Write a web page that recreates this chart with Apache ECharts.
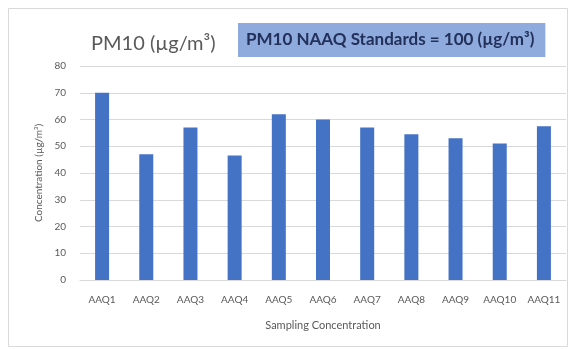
<!DOCTYPE html>
<html>
<head>
<meta charset="utf-8">
<script src="https://cdn.jsdelivr.net/npm/echarts@6/dist/echarts.min.js"></script>
<style>
  html, body { margin: 0; padding: 0; background: #ffffff; }
  #chart { width: 576px; height: 350px; }
</style>
</head>
<body>
<div id="chart"></div>
<script>
// Sampling stations and measured PM10 concentrations (µg/m³)
const stations = ['AAQ1', 'AAQ2', 'AAQ3', 'AAQ4', 'AAQ5', 'AAQ6', 'AAQ7', 'AAQ8', 'AAQ9', 'AAQ10', 'AAQ11'];
const pm10Values = [70, 47, 57, 46.5, 62, 60, 57, 54.5, 53, 51, 57.5];
const yTicks = [0, 10, 20, 30, 40, 50, 60, 70, 80];

const FONT = 'Lato, "Open Sans", sans-serif';
const chart = echarts.init(document.getElementById('chart'), null, { renderer: 'canvas' });

chart.setOption({
  backgroundColor: '#ffffff',
  animation: false,
  graphic: [{
    type: 'rect',
    shape: { x: 8.5, y: 8.5, width: 559, height: 338 },
    style: { fill: 'none', stroke: '#d9d9d9', lineWidth: 1 },
    silent: true
  }],
  title: [{
    text: 'PM10 (µg/m³)',
    left: 86,
    top: 29,
    textStyle: { fontFamily: FONT, fontSize: 20, fontWeight: 'normal', color: '#595959' }
  }, {
    text: 'PM10 NAAQ Standards = 100 (µg/m³)',
    left: 238,
    top: 23,
    backgroundColor: '#8faadc',
    padding: [7, 11, 7, 8],
    textStyle: { fontFamily: FONT, fontSize: 17, lineHeight: 20, fontWeight: 'bold', color: '#22305a' }
  }],
  grid: { left: 80, right: 10, top: 66, bottom: 70, containLabel: false },
  xAxis: {
    type: 'category',
    data: stations,
    name: 'Sampling Concentration',
    nameLocation: 'middle',
    nameGap: 40,
    nameTextStyle: { fontFamily: FONT, fontSize: 11, color: '#595959' },
    axisLine: { show: true, lineStyle: { color: '#d9d9d9' } },
    axisTick: { show: false },
    axisLabel: { fontFamily: FONT, fontSize: 10, color: '#595959', margin: 15, interval: 0 }
  },
  yAxis: {
    type: 'value',
    min: yTicks[0],
    max: yTicks[yTicks.length - 1],
    interval: 10,
    name: 'Concentration (µg/m³)',
    nameLocation: 'middle',
    nameGap: 36,
    nameTextStyle: { fontFamily: FONT, fontSize: 10, color: '#595959' },
    axisLine: { show: false },
    axisTick: { show: false },
    axisLabel: { fontFamily: FONT, fontSize: 10, color: '#595959', margin: 14 },
    splitLine: { lineStyle: { color: '#d9d9d9' } }
  },
  series: [{
    type: 'bar',
    data: pm10Values,
    barWidth: 14,
    itemStyle: { color: '#4472c4' }
  }]
});
</script>
</body>
</html>
